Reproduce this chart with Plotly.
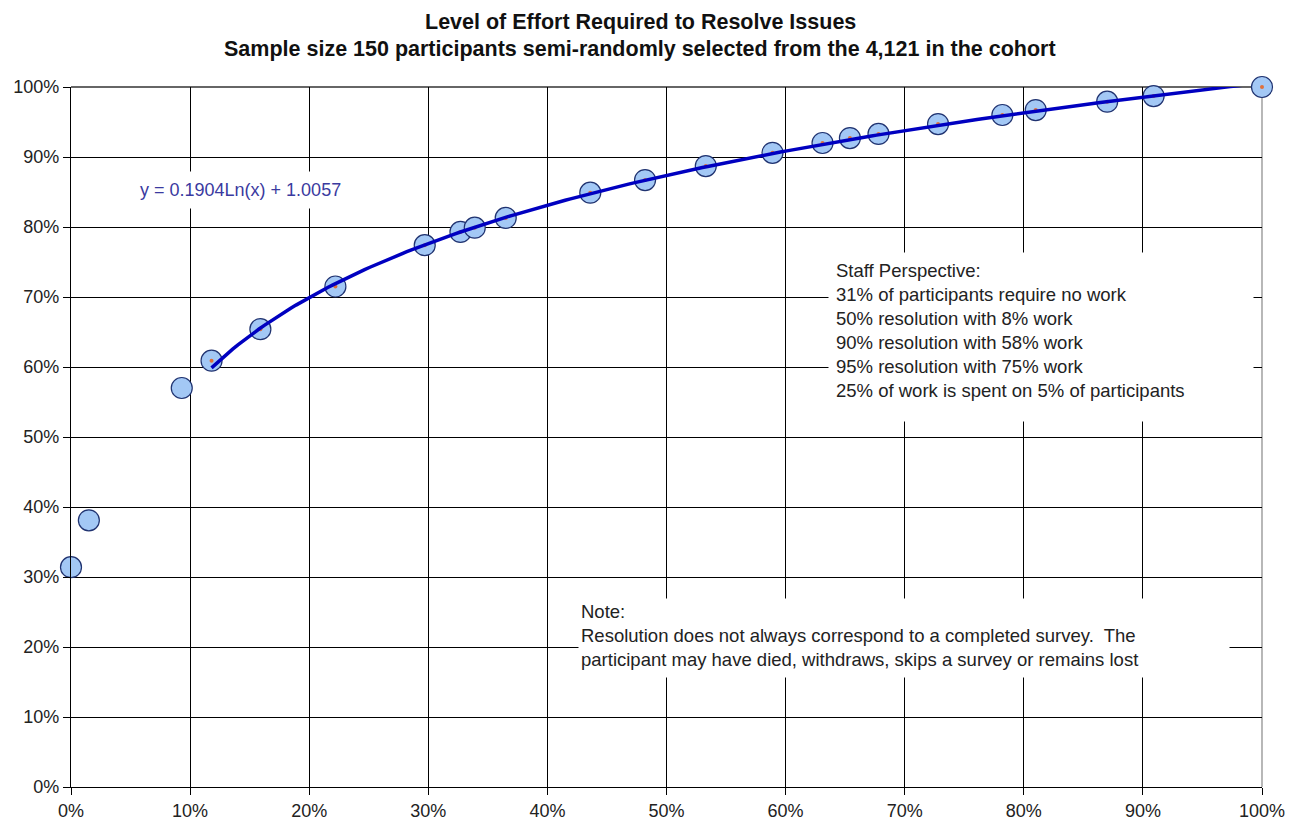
import plotly.graph_objects as go
import numpy as np

# share of work (x) vs cumulative share of issues resolved (y)
work_share = [0.000, 0.015, 0.093, 0.118, 0.159, 0.222, 0.297, 0.327, 0.339, 0.365,
              0.436, 0.482, 0.533, 0.589, 0.631, 0.654, 0.678, 0.728, 0.782, 0.810,
              0.870, 0.909, 1.000]
resolved = [0.314, 0.381, 0.570, 0.609, 0.654, 0.715, 0.774, 0.793, 0.799, 0.813,
            0.849, 0.867, 0.887, 0.906, 0.920, 0.927, 0.933, 0.947, 0.960, 0.967,
            0.979, 0.987, 1.000]

# points used for the log trendline (from 11.8% work onward)
fit_start = 3
trend_a, trend_b = 0.1904, 1.0057

tick_vals = [i / 10 for i in range(11)]
tick_text = [f"{i * 10}%" for i in range(11)]

title_line1 = "Level of Effort Required to Resolve Issues"
title_line2 = "Sample size 150 participants semi-randomly selected from the 4,121 in the cohort"
equation_text = "y = 0.1904Ln(x) + 1.0057"
staff_text = ("Staff Perspective:<br>31% of participants require no work<br>"
              "50% resolution with 8% work<br>90% resolution with 58% work<br>"
              "95% resolution with 75% work<br>25% of work is spent on 5% of participants")
note_text = ("Note:<br>Resolution does not always correspond to a completed survey.  The<br>"
             "participant may have died, withdraws, skips a survey or remains lost")

fit_x = np.linspace(work_share[fit_start], 1.0, 200)
fit_y = trend_a * np.log(fit_x) + trend_b

font = "Liberation Sans, Arial, sans-serif"
txt = "#222222"

fig = go.Figure()
fig.add_trace(go.Scatter(
    x=work_share, y=resolved, mode="markers",
    marker=dict(size=21, color="#a3c8f5", line=dict(color="#1f3270", width=1.2)),
    cliponaxis=False, hoverinfo="skip"))
fig.add_trace(go.Scatter(
    x=work_share[fit_start:], y=resolved[fit_start:], mode="markers",
    marker=dict(size=4, color="#e0703a"), cliponaxis=False, hoverinfo="skip"))
fig.add_trace(go.Scatter(
    x=fit_x, y=fit_y, mode="lines",
    line=dict(color="#0000c0", width=3.5), hoverinfo="skip"))

axis_style = dict(range=[0, 1], tickvals=tick_vals, ticktext=tick_text,
                  showgrid=True, gridcolor="black", gridwidth=1.4,
                  showline=True, linecolor="black", linewidth=1.4,
                  ticks="outside", ticklen=7, tickcolor="black", tickwidth=1.4,
                  zeroline=False, fixedrange=True, automargin=False)

# the page body adds an 8px offset, so margins are trimmed on top/left
fig.update_layout(
    width=1296, height=822,
    showlegend=False,
    paper_bgcolor="white", plot_bgcolor="white",
    margin=dict(l=63, r=42, t=79, b=43),
    font=dict(family=font, color=txt, size=18),
    xaxis=axis_style,
    yaxis=axis_style,
    shapes=[
        dict(type="line", xref="paper", yref="paper", x0=1, x1=1, y0=0, y1=1,
             line=dict(color="#888888", width=1.2), layer="below"),
        dict(type="line", xref="paper", yref="paper", x0=0, x1=1, y0=1, y1=1,
             line=dict(color="#333333", width=1.4), layer="below"),
    ],
    annotations=[
        dict(x=0.478, y=1.093, xref="paper", yref="paper", text=f"<b>{title_line1}</b>",
             xanchor="center", yanchor="middle",
             showarrow=False, font=dict(size=21.5, color="#111111")),
        dict(x=0.478, y=1.055, xref="paper", yref="paper", text=f"<b>{title_line2}</b>",
             xanchor="center", yanchor="middle",
             showarrow=False, font=dict(size=21.5, color="#111111")),
        dict(x=0.1427, y=0.853, xref="x", yref="y", text=equation_text,
             showarrow=False, font=dict(size=18, color="#3a3aa0"),
             bgcolor="white", borderpad=8),
        dict(x=0.6356, y=0.764, xref="x", yref="y", text=staff_text,
             xanchor="left", yanchor="top", align="left", valign="top",
             showarrow=False, font=dict(size=18.5, color=txt),
             bgcolor="white", borderpad=7, width=410, height=154),
        dict(x=0.4257, y=0.270, xref="x", yref="y", text=note_text,
             xanchor="left", yanchor="top", align="left", valign="top",
             showarrow=False, font=dict(size=18.5, color=txt),
             bgcolor="white", borderpad=2, width=646, height=74),
    ],
)

fig.write_html("out.html")
